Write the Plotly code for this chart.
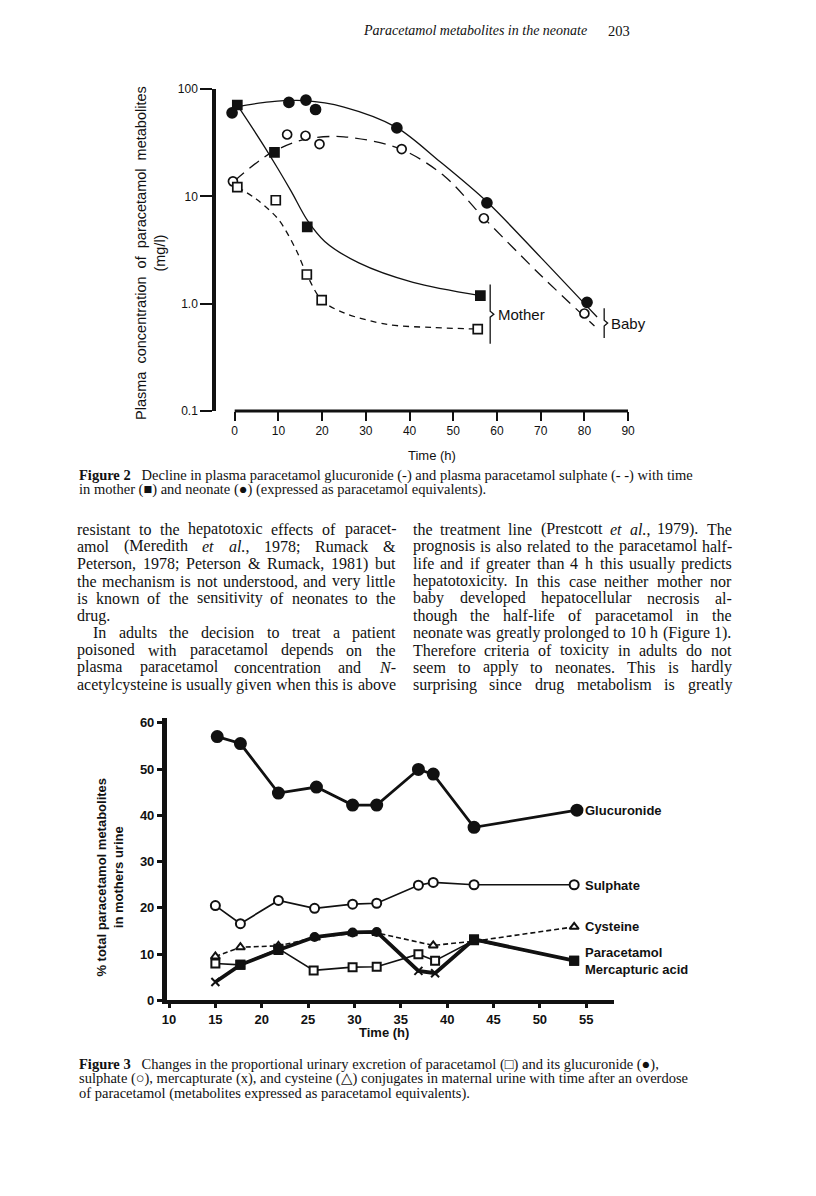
import re
import plotly.graph_objects as go

W, H = 816, 1196

# ---------------- Figure 2: plasma metabolites (log scale) ----------------
baby_gluc_t = [-0.6, 12.4, 16.3, 18.5, 37.1, 57.7, 80.6]
baby_gluc_v = [60, 75, 79, 64.5, 43.4, 8.7, 1.03]
baby_sulph_t = [-0.4, 12.0, 16.2, 19.4, 38.2, 57.0, 80.0]
baby_sulph_v = [13.8, 37.7, 36.7, 30.7, 27.6, 6.25, 0.81]
mother_gluc_t = [0.6, 9.1, 16.6, 56.2]
mother_gluc_v = [71, 25.7, 5.2, 1.19]
mother_sulph_t = [0.6, 9.4, 16.5, 19.9, 55.6]
mother_sulph_v = [12.2, 9.2, 1.87, 1.08, 0.58]

# hand-drawn fitted curves
baby_gluc_fit_t = [0, 8, 16, 25, 37, 47, 57.7, 70, 82.9]
baby_gluc_fit_v = [68, 76, 78, 68, 44, 21, 8.9, 2.7, 0.75]
baby_sulph_fit_t = [0, 8, 16, 25, 38, 48, 57, 70, 82.3]
baby_sulph_fit_v = [14, 25, 34, 35.9, 27.6, 15.4, 6.3, 1.84, 0.62]
mother_gluc_fit_t = [0.6, 4, 7, 10, 13, 16.6, 20.6, 28.4, 40.8, 56.2]
mother_gluc_fit_v = [70.8, 43.7, 28.2, 17.8, 11.0, 6.0, 3.8, 2.4, 1.58, 1.19]
mother_sulph_fit_t = [0.6, 5, 10, 14, 16.5, 19.9, 25, 35, 45, 55.6]
mother_sulph_fit_v = [12.2, 9.4, 6.1, 3.2, 1.87, 1.08, 0.82, 0.64, 0.6, 0.58]

top_ytick_vals = [0.1, 1, 10, 100]
top_ytick_text = ["0.1", "1.0", "10", "100"]
top_xticks = [0, 10, 20, 30, 40, 50, 60, 70, 80, 90]

# ---------------- Figure 3: urinary metabolites (%) ----------------
gluc_t = [15.2, 17.7, 21.8, 25.9, 29.8, 32.4, 36.9, 38.5, 42.9, 54.0]
gluc_v = [57.0, 55.5, 44.8, 46.1, 42.2, 42.2, 49.9, 48.9, 37.4, 41.1]
sulph_t = [15.0, 17.7, 21.8, 25.7, 29.8, 32.4, 36.9, 38.5, 42.9, 53.7]
sulph_v = [20.5, 16.6, 21.6, 19.9, 20.8, 21.0, 24.9, 25.5, 25.0, 25.0]
cyst_t = [15.0, 17.7, 21.8, 25.8, 29.8, 32.4, 38.5, 42.9, 53.7]
cyst_v = [9.5, 11.5, 11.8, 13.6, 14.5, 14.6, 11.9, 12.8, 15.9]
para_t = [15.0, 17.7, 21.8, 25.6, 29.8, 32.4, 36.9, 38.7, 42.9, 53.7]
para_v = [8.0, 7.7, 11.2, 6.5, 7.2, 7.3, 10.0, 8.6, 13.0, 8.6]
merc_t = [15.0, 17.7, 21.8, 25.7, 29.8, 32.4, 36.9, 38.7, 42.9, 53.7]
merc_v = [4.0, 7.7, 10.9, 13.7, 14.7, 14.8, 6.4, 5.9, 13.2, 8.6]

bot_yticks = [0, 10, 20, 30, 40, 50, 60]
bot_xticks = [10, 15, 20, 25, 30, 35, 40, 45, 50, 55]

# ---------------- page text ----------------
header_title = "Paracetamol metabolites in the neonate"
header_page = "203"
fig2_caption = [
    "<b>Figure 2</b>   Decline in plasma paracetamol glucuronide (-) and plasma paracetamol sulphate (- -) with time",
    "in mother (■) and neonate (●) (expressed as paracetamol equivalents).",
]
fig3_caption = [
    "<b>Figure 3</b>   Changes in the proportional urinary excretion of paracetamol (□) and its glucuronide (●),",
    "sulphate (○), mercapturate (x), and cysteine (△) conjugates in maternal urine with time after an overdose",
    "of paracetamol (metabolites expressed as paracetamol equivalents).",
]
left_col = [
    "resistant to the hepatotoxic effects of paracet-",
    "amol (Meredith <i>et</i> <i>al.</i>, 1978; Rumack &amp;",
    "Peterson, 1978; Peterson &amp; Rumack, 1981) but",
    "the mechanism is not understood, and very little",
    "is known of the sensitivity of neonates to the",
    "drug.",
    "In adults the decision to treat a patient",
    "poisoned with paracetamol depends on the",
    "plasma paracetamol concentration and <i>N</i>-",
    "acetylcysteine is usually given when this is above",
]
right_col = [
    "the treatment line (Prestcott <i>et</i> <i>al.</i>, 1979). The",
    "prognosis is also related to the paracetamol half-",
    "life and if greater than 4 h this usually predicts",
    "hepatotoxicity. In this case neither mother nor",
    "baby developed hepatocellular necrosis al-",
    "though the half-life of paracetamol in the",
    "neonate was greatly prolonged to 10 h (Figure 1).",
    "Therefore criteria of toxicity in adults do not",
    "seem to apply to neonates. This is hardly",
    "surprising since drug metabolism is greatly",
]

SANS = "Liberation Sans, Arial, sans-serif"
SERIF = "Liberation Serif, Times New Roman, serif"
INK = "#111111"


def px(x):
    return x / W


def py(y):
    return 1 - y / H


# Times advance widths (1/1000 em), used to justify the body text
TIMES_W = {}
for chars, w in [(" ,.", 250), ("ijlt:;/", 278), ("fr()-I!", 333), ("sJ", 389),
                 ("acez", 444), ("bdghknopquvxy0123456789", 500), ("FPS", 556),
                 ("ELTZ", 611), ("BCR", 667), ("ADGHKNOQUVXYw", 722), ("m&", 778),
                 ("M", 889), ("W", 944)]:
    for c in chars:
        TIMES_W[c] = w


def text_width(s, size):
    plain = re.sub(r"<[^>]+>", "", s).replace("&amp;", "&")
    return sum(TIMES_W.get(c, 500) for c in plain) * size / 1000


def add_column(fig, lines, x0, x1, y0, step, size, indent=(), ragged=()):
    for i, line in enumerate(lines):
        y = y0 + i * step
        start = x0 + (16 if i in indent else 0)
        words = line.split(" ")
        widths = [text_width(w, size) for w in words]
        if i in ragged or len(words) == 1:
            gap = text_width(" ", size)
        else:
            gap = (x1 - start - sum(widths)) / (len(words) - 1)
        x = start
        for w, ww in zip(words, widths):
            fig.add_annotation(x=px(x), y=py(y), xref="paper", yref="paper", text=w,
                               xanchor="left", yanchor="middle", showarrow=False,
                               borderpad=0, font=dict(family=SERIF, size=size, color=INK))
            x += ww + gap


fig = go.Figure()

# ---- Figure 2 traces ----
def curve(t, v, dash):
    return go.Scatter(x=t, y=v, mode="lines", line=dict(color=INK, width=1.3, dash=dash,
                      shape="spline", smoothing=0.9), hoverinfo="skip", showlegend=False,
                      xaxis="x", yaxis="y")


def points(t, v, symbol, size, fill, name):
    return go.Scatter(x=t, y=v, mode="markers", name=name, cliponaxis=False,
                      marker=dict(symbol=symbol, size=size, color=fill,
                                  line=dict(color=INK, width=1.7)),
                      showlegend=False, xaxis="x", yaxis="y")


fig.add_trace(curve(baby_gluc_fit_t, baby_gluc_fit_v, "solid"))
fig.add_trace(curve(baby_sulph_fit_t, baby_sulph_fit_v, "12px,7px"))
fig.add_trace(curve(mother_gluc_fit_t, mother_gluc_fit_v, "solid"))
fig.add_trace(curve(mother_sulph_fit_t, mother_sulph_fit_v, "6px,5px"))
fig.add_trace(points(baby_gluc_t, baby_gluc_v, "circle", 10, INK, "Baby glucuronide"))
fig.add_trace(points(baby_sulph_t, baby_sulph_v, "circle", 9, "white", "Baby sulphate"))
fig.add_trace(points(mother_gluc_t, mother_gluc_v, "square", 9, INK, "Mother glucuronide"))
fig.add_trace(points(mother_sulph_t, mother_sulph_v, "square", 9, "white", "Mother sulphate"))

# ---- Figure 3 traces ----
def urine(t, v, symbol, size, width, dash="solid", fill=INK, name=""):
    return go.Scatter(x=t, y=v, mode="lines+markers", name=name, cliponaxis=False,
                      line=dict(color=INK, width=width, dash=dash),
                      marker=dict(symbol=symbol, size=size, color=fill,
                                  line=dict(color=INK, width=2)),
                      showlegend=False, xaxis="x2", yaxis="y2")


fig.add_trace(urine(cyst_t, cyst_v, "triangle-up", 8, 1.6, dash="5px,3px", fill="white", name="Cysteine"))
fig.add_trace(urine(para_t, para_v, "square", 8, 1.6, fill="white", name="Paracetamol"))
fig.add_trace(urine(merc_t, merc_v,
                    ["x-thin", "square", "square", "circle", "circle", "circle", "x-thin", "x-thin", "square", "square"],
                    8, 3.8, name="Mercapturic acid"))
fig.add_trace(urine(sulph_t, sulph_v, "circle", 9, 1.7, fill="white", name="Sulphate"))
fig.add_trace(urine(gluc_t, gluc_v, "circle", 11, 2.8, name="Glucuronide"))

# top x axis starts right of the y axis: the domain begins at the y axis and the
# visible axis line is drawn from 0 to 90 h only
X_LEFT = -(225 - 206) / ((624.3 - 225) / 90)

fig.update_layout(
    width=W, height=H, margin=dict(l=0, r=0, t=0, b=0),
    paper_bgcolor="white", plot_bgcolor="rgba(0,0,0,0)",
    xaxis=dict(domain=[px(206), px(624.3)], range=[X_LEFT, 90], anchor="y",
               showline=False, showgrid=False, zeroline=False,
               ticks="outside", ticklen=9, tickwidth=2, tickcolor=INK,
               tickvals=top_xticks, tickfont=dict(family=SANS, size=12, color=INK)),
    yaxis=dict(domain=[py(401), py(75)], type="log", range=[-1, 2], anchor="x",
               showline=True, linewidth=3.5, linecolor=INK,
               showgrid=False, zeroline=False, ticks="outside", ticklen=12, tickwidth=2,
               tickcolor=INK, tickvals=top_ytick_vals, ticktext=top_ytick_text,
               tickfont=dict(family=SANS, size=12, color=INK)),
    xaxis2=dict(domain=[px(156), px(610)], range=[9.75, 58], anchor="y2",
                showline=True, linewidth=4, linecolor=INK, showgrid=False, zeroline=False,
                ticks="outside", ticklen=4, tickwidth=2.5, tickcolor=INK, tickvals=bot_xticks,
                tickfont=dict(family=SANS, size=13, color=INK, weight="bold")),
    yaxis2=dict(domain=[py(998), py(712)], range=[0, 61], anchor="x2",
                showline=True, linewidth=4.5, linecolor=INK, showgrid=False, zeroline=False,
                ticks="outside", ticklen=5, tickwidth=2.5, tickcolor=INK, tickvals=bot_yticks,
                tickfont=dict(family=SANS, size=13, color=INK, weight="bold")),
)

# top time axis line (0-90 h)
fig.add_shape(type="line", xref="x", yref="paper", x0=0, x1=90, y0=py(401), y1=py(401),
              line=dict(color=INK, width=3))


def note(x, y, text, size, family=SANS, anchor="left", angle=0, bold=False):
    fig.add_annotation(x=px(x), y=py(y), xref="paper", yref="paper", text=text,
                       xanchor=anchor, yanchor="middle", showarrow=False, textangle=angle,
                       align="left" if anchor == "left" else "center",
                       borderpad=0, font=dict(family=family, size=size, color=INK,
                                              weight="bold" if bold else "normal"))


# page header
note(354, 16, "<i>" + header_title + "</i>", 14, family=SERIF)
note(603, 16, header_page, 14.5, family=SERIF)

# Figure 2 labels
note(140, 241, "Plasma&nbsp; concentration&nbsp; of&nbsp; paracetamol&nbsp; metabolites<br>(mg/l)",
     14.5, angle=-90, anchor="center")
note(425, 446, "Time (h)", 13, anchor="center")
note(491, 303, "Mother", 15)
note(606, 312, "Baby", 15)
for path in ["M {a} {t} L {a} {m1} L {b} {m} L {a} {m2} L {a} {btm}".format(
        a=px(484.3), b=px(488), t=py(273), m1=py(300), m=py(303), m2=py(306), btm=py(333)),
        "M {a} {t} L {a} {m1} L {b} {m} L {a} {m2} L {a} {btm}".format(
        a=px(600), b=px(603.5), t=py(297), m1=py(309), m=py(312), m2=py(315), btm=py(327))]:
    fig.add_shape(type="path", path=path, xref="paper", yref="paper",
                  line=dict(color=INK, width=1.3))

# Figure 2 caption
for i, line in enumerate(fig2_caption):
    note(66, 466.5 + i * 14.5, line, 14.5, family=SERIF)

# body text
add_column(fig, left_col, 64, 387, 520.7, 17.5, 16, indent=(6,), ragged=(5,))
add_column(fig, right_col, 404.5, 728, 520.7, 17.5, 16)

# Figure 3 labels
note(99, 873, "% total paracetamol metabolites<br>in mothers urine", 13, angle=-90,
     anchor="center", bold=True)
note(377, 1030, "Time (h)", 13, anchor="center", bold=True)
note(580, 805.7, "Glucuronide", 13, bold=True)
note(580, 881.7, "Sulphate", 13, bold=True)
note(580, 923.3, "Cysteine", 13, bold=True)
note(580, 958, "Paracetamol<br>Mercapturic acid", 13, bold=True)

# Figure 3 caption
for i, line in enumerate(fig3_caption):
    note(66, 1062.5 + i * 14.8, line, 14.5, family=SERIF)

fig.write_html("out.html")
